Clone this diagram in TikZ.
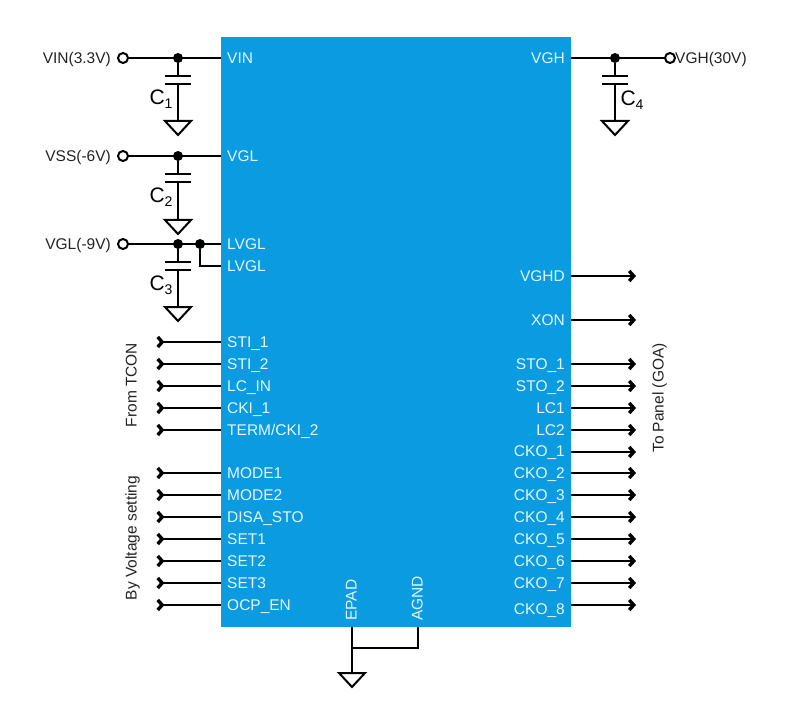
\documentclass[tikz,border=0pt]{standalone}
\usepackage{fontspec}
\setmainfont{Liberation Sans}
\usepackage{xcolor}
\usetikzlibrary{calc,positioning,arrows.meta}
\definecolor{chipblue}{HTML}{0A9BE0}
\definecolor{pintext}{HTML}{E6F7FF}
\definecolor{inktext}{HTML}{222222}
\newcommand{\capname}[1]{{\fontsize{21}{24}\selectfont C}\raisebox{-4pt}{\fontsize{14}{16}\selectfont #1}}
\tikzset{
    wire/.style={line width=2pt, black},
    pinin/.style={wire, {Straight Barb[reversed,length=4.5pt,width=10pt,line width=3.4pt]}-},
    pinout/.style={wire, -{Straight Barb[length=4.5pt,width=10pt,line width=3.4pt]}},
    chip/.style={fill=chipblue, minimum width=350pt, minimum height=590pt, inner sep=0pt},
    lab/.style={font=\fontsize{15.5}{18}\selectfont, inner sep=0pt, text height=11pt, text depth=0pt},
    pinlab/.style={lab, text=pintext},
    netlab/.style={lab, text=inktext},
    dot/.style={circle, fill=black, minimum size=10pt, inner sep=0pt},
    port/.style={circle, draw=black, fill=white, line width=2pt, minimum size=10pt, inner sep=0pt},
    plate/.style={fill=black, minimum width=26pt, minimum height=2pt, inner sep=0pt},
    gnd/.pic={\draw[wire] (-13,0) -- (13,0) -- (0,14) -- cycle; \coordinate (-top) at (0,0);}
}
\begin{document}
\begin{tikzpicture}[x=1pt, y=-1pt]
    \useasboundingbox (0,0) rectangle (796,706);
    \node[chip] (chip) at (396,332) {};% the package body

    % supply rails on the left, each with its capacitor
    \foreach \yy/\net/\pinname/\i/\ytop in {58/VIN(3.3V)/VIN/1/121, 156/VSS(-6V)/VGL/2/220, 244/VGL(-9V)/LVGL/3/307}{
        \node[port] (port\i) at (123,\yy) {};
        \node[netlab, anchor=east] (net\i) at (111,\yy) {\net};
        \node[pinlab, anchor=west] (pin\i) at (227,\yy) {\pinname};
        \coordinate (edge\i) at (chip.west |- port\i);
        \node[dot] (dot\i) at (178,\yy) {};
        \node[plate] (top\i) at ($(dot\i)+(0,18)$) {};
        \node[plate] (bot\i) at ($(dot\i)+(0,26)$) {};
        \pic (gnd\i) at (178,\ytop) {gnd};
        \node[inner sep=0pt] (cap\i) at ($(dot\i)+(-17,41)$) {\capname{\i}};
        \draw[wire] (port\i) -- (edge\i);
        \draw[wire] (dot\i) -- (top\i);
        \draw[wire] (bot\i) -- (gnd\i-top);
    }
    % second LVGL pin
    \node[dot] (dotb) at (200,244) {};
    \node[pinlab, anchor=west] (pinb) at (227,266) {LVGL};
    \coordinate (edgeb) at (chip.west |- pinb);
    \draw[wire] (dotb) |- (edgeb);

    % VGH rail on the right
    \node[port] (portr) at (670,58) {};
    \node[netlab, anchor=west] (netr) at (675,58) {VGH(30V)};
    \node[pinlab, anchor=east] (pinr) at (565,58) {VGH};
    \coordinate (edger) at (chip.east |- portr);
    \node[dot] (dotr) at (615,58) {};
    \node[plate] (topr) at (615,76) {};
    \node[plate] (botr) at (615,84) {};
    \pic (gndr) at (615,121) {gnd};
    \node[inner sep=0pt] (capr) at (632,100) {\capname{4}};
    \draw[wire] (edger) -- (portr);
    \draw[wire] (dotr) -- (topr);
    \draw[wire] (botr) -- (gndr-top);

    % inputs
    \foreach \yy/\lab [count=\i] in {342/STI\_1, 364/STI\_2, 386/LC\_IN, 408/CKI\_1, 430/{TERM/CKI\_2}, 473/MODE1, 495/MODE2, 517/DISA\_STO, 539/SET1, 561/SET2, 583/SET3, 605/OCP\_EN}{
        \node[pinlab, anchor=west] (inlab\i) at (227,\yy) {\lab};
        \coordinate (instart\i) at (156,\yy);
        \coordinate (inend\i) at (chip.west |- instart\i);
        \draw[pinin] (instart\i) -- (inend\i);
    }
    % outputs, label height and wire height differ for the last one
    \foreach \yy/\ylab/\lab [count=\i] in {276/276/VGHD, 320/320/XON, 364/364/STO\_1, 386/386/STO\_2, 408/408/LC1, 430/430/LC2, 452/451/CKO\_1, 473/473/CKO\_2, 495/495/CKO\_3, 517/517/CKO\_4, 539/539/CKO\_5, 561/561/CKO\_6, 583/583/CKO\_7, 605/609/CKO\_8}{
        \node[pinlab, anchor=east] (outlab\i) at (565,\ylab) {\lab};
        \coordinate (outend\i) at (636,\yy);
        \coordinate (outstart\i) at (chip.east |- outend\i);
        \draw[pinout] (outstart\i) -- (outend\i);
    }

    % group labels
    \node[netlab, rotate=90] (fromtcon) at (131,385) {From TCON};
    \node[netlab, rotate=90] (byvolt) at (131,538) {By Voltage setting};
    \node[netlab, rotate=90] (topanel) at (658,398) {To Panel (GOA)};

    % bottom pins
    \node[pinlab, rotate=90, anchor=west] (epad) at (351,621) {EPAD};
    \node[pinlab, rotate=90, anchor=west] (agnd) at (417,621) {AGND};
    \coordinate (epadpin) at (352,627);
    \coordinate (agndpin) at (418,627);
    \coordinate (tee) at (352,648);
    \pic (gndb) at (352,673) {gnd};
    \draw[wire] (epadpin) -- (gndb-top);
    \draw[wire] (agndpin) |- (tee);
\end{tikzpicture}
\end{document}
